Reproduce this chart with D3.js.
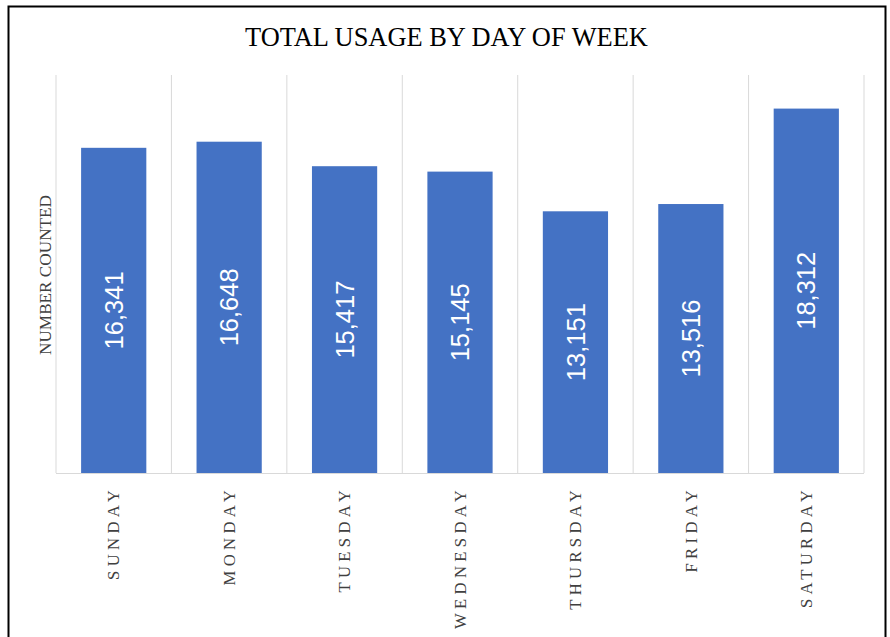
<!DOCTYPE html>
<html><head><meta charset="utf-8">
<script src="https://cdn.jsdelivr.net/npm/d3@7"></script>
<style>html,body{margin:0;padding:0;background:#fff;overflow:hidden}</style>
</head><body>
<svg id="chart" width="890" height="637"></svg>
<script>
const days = ["SUNDAY","MONDAY","TUESDAY","WEDNESDAY","THURSDAY","FRIDAY","SATURDAY"];
const counts = [16341,16648,15417,15145,13151,13516,18312];
const yDomain = [0, 20000];
const title = "TOTAL USAGE BY DAY OF WEEK";
const yTitle = "NUMBER COUNTED";

const svg = d3.select("#chart");
const W = 890, H = 637;
const m = {left:56, right:26, top:75, bottom:164};
const x = d3.scaleBand().domain(days).range([m.left, W - m.right]).paddingInner(0).paddingOuter(0);
const y = d3.scaleLinear().domain(yDomain).range([H - m.bottom, m.top]);
const serif = "'Liberation Serif', 'DejaVu Serif', serif";
const sans = "'Liberation Sans', Arial, sans-serif";

// measure helper: font size so that text reaches target width
function fitSize(text, family, target, spacingEm) {
  const t = svg.append("text").style("font-family", family).style("font-size", "100px")
    .style("letter-spacing", (spacingEm||0)*100 + "px").text(text);
  const w = t.node().getComputedTextLength();
  t.remove();
  return 100 * target / w;
}

// frame
svg.append("path").attr("d", `M8.5,${H+5} V6.5 H885.5 V${H+5}`).attr("fill","none").attr("stroke","#000").attr("stroke-width",2);

// vertical gridlines at category boundaries
const bounds = days.map(d => x(d)).concat([x.range()[1]]);
svg.append("g").selectAll("line").data(bounds).join("line")
  .attr("x1", d => d).attr("x2", d => d)
  .attr("y1", y(yDomain[1])).attr("y2", y(0))
  .attr("stroke", "#d9d9d9").attr("stroke-width", 1);

// bars
const barW = x.bandwidth() * 0.565;
svg.append("g").selectAll("rect").data(days).join("rect")
  .attr("x", d => x(d) + (x.bandwidth() - barW)/2)
  .attr("width", barW)
  .attr("y", (d,i) => y(counts[i]))
  .attr("height", (d,i) => y(0) - y(counts[i]))
  .attr("fill", "#4472c4");

// baseline
svg.append("line").attr("x1", x.range()[0]).attr("x2", x.range()[1])
  .attr("y1", y(0)+0.5).attr("y2", y(0)+0.5).attr("stroke","#d9d9d9");

// value labels
const fmt = d3.format(",");
const valSize = fitSize("15,145", sans, 78);
svg.append("g").selectAll("text").data(days).join("text")
  .attr("transform", (d,i) => `translate(${x(d)+x.bandwidth()/2 + valSize*0.36},${(y(counts[i])+y(0))/2}) rotate(-90)`)
  .attr("text-anchor","middle")
  .attr("fill","#fff")
  .style("font-family", sans)
  .style("font-size", valSize + "px")
  .text((d,i) => fmt(counts[i]));

// x axis labels
const spEm = 0.26;
const catSize = fitSize("WEDNESDAY", serif, 143, spEm);
svg.append("g").selectAll("text").data(days).join("text")
  .attr("transform", d => `translate(${x(d)+x.bandwidth()/2 + catSize*0.34},${y(0)+13}) rotate(-90)`)
  .attr("text-anchor","end")
  .attr("fill","#404040")
  .style("font-family", serif)
  .style("font-size", catSize + "px")
  .style("letter-spacing", (catSize*spEm) + "px")
  .text(d => d);

// y title
const ySize = fitSize(yTitle, serif, 160);
svg.append("text")
  .attr("transform", `translate(51,275) rotate(-90)`)
  .attr("text-anchor","middle")
  .attr("fill","#404040")
  .style("font-family", serif)
  .style("font-size", ySize + "px")
  .text(yTitle);

// chart title
const tSize = fitSize(title, serif, 403);
svg.append("text")
  .attr("x", 446.5).attr("y", 46)
  .attr("text-anchor","middle")
  .attr("fill","#000")
  .style("font-family", serif)
  .style("font-size", tSize + "px")
  .text(title);
</script>
</body></html>
